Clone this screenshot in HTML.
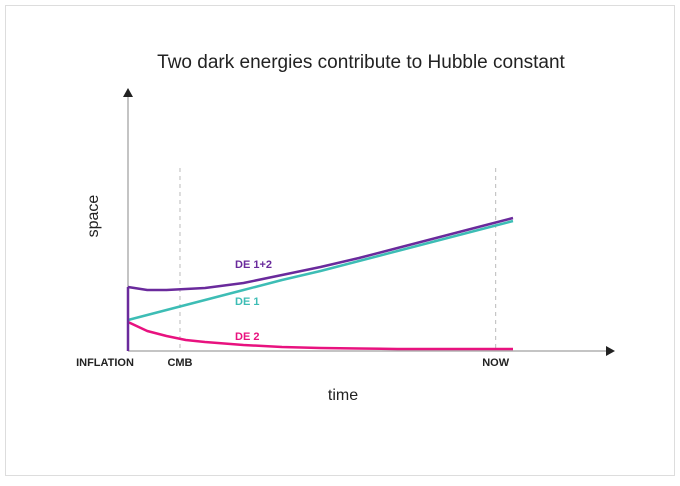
<!DOCTYPE html>
<html><head><meta charset="utf-8"><style>
body{margin:0;background:#fff;font-family:"Liberation Sans",sans-serif}
svg text{font-family:"Liberation Sans",sans-serif}
</style></head><body>
<svg width="680" height="481" viewBox="0 0 680 481">
<rect x="5.5" y="5.5" width="669" height="470" fill="#fff" stroke="#ddd"/>
<text x="361" y="68" text-anchor="middle" font-size="19" fill="#222">Two dark energies contribute to Hubble constant</text>
<g id="axes"></g>
<g id="series"></g>
<text x="98" y="216" transform="rotate(-90 98 216)" text-anchor="middle" font-size="16" fill="#222">space</text>
<text x="343" y="400" text-anchor="middle" font-size="16" fill="#222">time</text>
</svg>
<script>
const times=[0,5,10,15,20,30,40,50,60,70,80,90,100];
const de1=[31,36,41,46,51,61,71,80,90,100,110,120,130];
const de2=[29,20,15,11,9,6,4,3,2.5,2,2,2,2];
const de12=[64,61,61,62,63,68,76,84,93,103,113,123,133];
const tickLabels=["INFLATION","CMB","NOW"];
const tickTimes=[0,13.5,95.5];
const seriesNames=["DE 1+2","DE 1","DE 2"];
const NS="http://www.w3.org/2000/svg";
const X=t=>128+3.85*t, Y=v=>351-v;
const ax=document.getElementById('axes'), sg=document.getElementById('series');
function mk(tag,attrs,parent){const e=document.createElementNS(NS,tag);for(const k in attrs)e.setAttribute(k,attrs[k]);parent.appendChild(e);return e;}
let e;
e=mk('line',{x1:128,y1:351,x2:608,y2:351,stroke:'#888','stroke-width':1},ax);


e=mk('polygon',{points:'615,351 606,346 606,356',fill:'#222'},ax);


e=mk('line',{x1:128,y1:351,x2:128,y2:95,stroke:'#888','stroke-width':1},ax);


e=mk('polygon',{points:'128,88 123,97 133,97',fill:'#222'},ax);


tickTimes.forEach((t,i)=>{
  if(i>0){const l=mk('line',{x1:X(t),y1:168,x2:X(t),y2:351,stroke:'#bbb','stroke-dasharray':'4,4'},ax);
  
  }
  const tx=mk('text',{x:i==0?105:X(t),y:366,'text-anchor':'middle','font-size':11,'font-weight':'bold',fill:'#222'},ax);
  tx.textContent=tickLabels[i];
  
  
});
function line(vals,color,name){
  const d=vals.map((v,i)=>(i?'L':'M')+X(times[i])+','+Y(v)).join(' ');
  const p=mk('path',{d:d,fill:'none',stroke:color,'stroke-width':2.5,'stroke-linejoin':'round'},sg);
  
  
}
line(de2,'#e8127f','line-de2');
line(de1,'#3dbdb5','line-de1');
line(de12,'#6a2a9c','line-de12');
e=mk('line',{x1:128,y1:Y(de12[0]),x2:128,y2:351,stroke:'#6a2a9c','stroke-width':2.5},sg);


const lblY=[268,305,340],cols=['#6a2a9c','#3dbdb5','#e8127f'];
seriesNames.forEach((n,i)=>{
  const t=mk('text',{x:235,y:lblY[i],'font-size':11,'font-weight':'bold',fill:cols[i]},sg);
  t.textContent=n;
  
  
});
</script>
</body></html>
